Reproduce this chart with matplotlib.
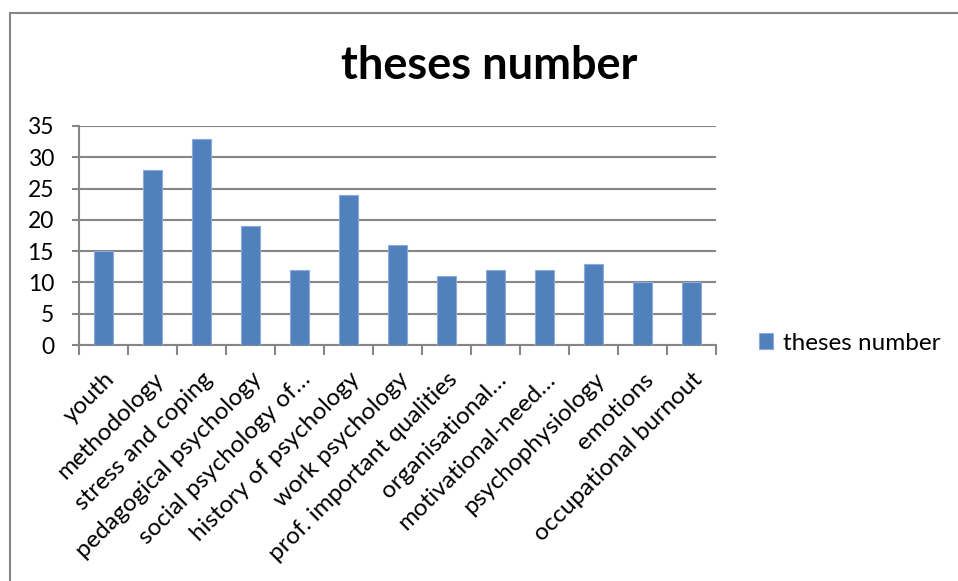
import matplotlib
matplotlib.use("Agg")
import matplotlib.pyplot as plt
from matplotlib.patches import Rectangle
from matplotlib.transforms import ScaledTranslation
import numpy as np

categories = [
    "youth", "methodology", "stress and coping", "pedagogical psychology",
    "social psychology of…", "history of psychology", "work psychology",
    "prof. important qualities", "organisational…", "motivational-need…",
    "psychophysiology", "emotions", "occupational burnout",
]
theses = [15, 28, 33, 19, 12, 24, 16, 11, 12, 12, 13, 10, 10]
series_name = "theses number"
yticks = [0, 5, 10, 15, 20, 25, 30, 35]

plt.rcParams["font.family"] = ["Lato", "DejaVu Sans"]

W, H = 958, 581
fig = plt.figure(figsize=(W / 100, H / 100), dpi=100)

# chart frame
fig.patches.append(Rectangle((10 / W, -0.05), 1.2, 1 - 13 / H + 0.05,
                             transform=fig.transFigure, fill=False,
                             edgecolor="#868686", linewidth=1.5))

ax = fig.add_axes([79 / W, 1 - 345 / H, (716 - 79) / W, (345 - 126) / H])
x = np.arange(len(categories))
bars = ax.bar(x, theses, width=0.4, color="#4F81BD", edgecolor="#8EAADB",
              linewidth=0.8, zorder=3, label=series_name)

ax.set_xlim(-0.5, len(categories) - 0.5)
ax.set_ylim(0, 35)
ax.set_yticks(yticks)
ax.set_yticklabels([str(v) for v in yticks], fontsize=16.5)
ax.grid(axis="y", color="#868686", linewidth=1.5, zorder=0)

ax.set_xticks(np.arange(len(categories) + 1) - 0.5, minor=False)
ax.set_xticklabels([])
ax.set_xticks(x, minor=True)
ax.set_xticklabels(categories, minor=True, rotation=45, ha="right",
                   rotation_mode="anchor", fontsize=17.5)
shift = ScaledTranslation(-4 / 100, 0, fig.dpi_scale_trans)
for lbl in ax.get_xticklabels(minor=True):
    lbl.set_transform(lbl.get_transform() + shift)
ax.tick_params(axis="x", which="minor", length=0, pad=17)
ax.tick_params(axis="x", which="major", length=7, width=1.5, color="#868686")
ax.tick_params(axis="y", length=5, width=1.5, color="#868686", pad=13)

for side in ["top", "right"]:
    ax.spines[side].set_visible(False)
for side in ["left", "bottom"]:
    ax.spines[side].set_color("#868686")
    ax.spines[side].set_linewidth(1.5)

fig.text(489 / W, 1 - 66 / H, "theses number", ha="center", va="center",
         fontsize=32.5, fontweight="bold")

leg = ax.legend(loc="center left", bbox_to_anchor=(737 / W, 1 - 343 / H),
                bbox_transform=fig.transFigure, frameon=False, fontsize=17.5,
                handlelength=0.6, handleheight=0.6, handletextpad=0.4)

fig.savefig("out.png", dpi=100)
